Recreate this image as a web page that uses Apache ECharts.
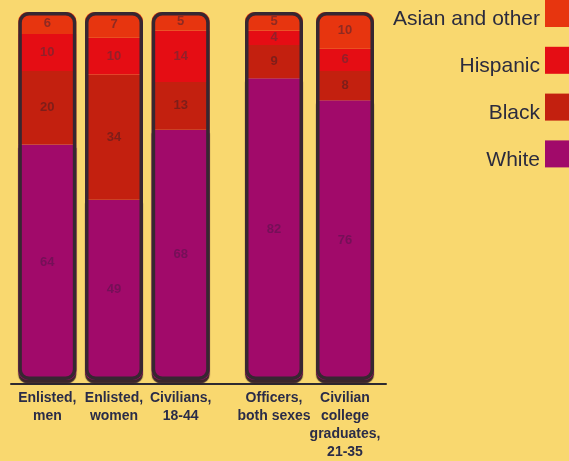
<!DOCTYPE html>
<html>
<head>
<meta charset="utf-8">
<script src="https://cdn.jsdelivr.net/npm/echarts@6/dist/echarts.min.js"></script>
<style>
html,body{margin:0;padding:0;background:#f9d86f;}
#c{width:569px;height:461px;}
</style>
</head>
<body>
<div id="c"></div>
<script>
// Data (percent)
const categoriesA = ['Enlisted,\nmen', 'Enlisted,\nwomen', 'Civilians,\n18-44'];
const categoriesB = ['Officers,\nboth sexes', 'Civilian\ncollege\ngraduates,\n21-35'];
const white    = [64, 49, 68, 82, 76];
const black    = [20, 34, 13, 9, 8];
const hispanic = [10, 10, 14, 4, 6];
const asian    = [6, 7, 5, 5, 10];
const totals   = [100, 100, 100, 100, 100];
const legendNames = ['Asian and other', 'Hispanic', 'Black', 'White'];

const colors = {
  'White': '#a10a6a',
  'Black': '#c3200f',
  'Hispanic': '#e50d14',
  'Asian and other': '#e7350f'
};
const labelColors = {
  'White': '#751058',
  'Black': '#7e1e1a',
  'Hispanic': '#93202a',
  'Asian and other': '#8f2a22'
};
const font = '"Liberation Sans", Arial, Helvetica, sans-serif';
const BW = 58;
const R = 9;

function seriesFor(gi, from, to) {
  const defs = [
    ['White', white, [0, 0, R, R]],
    ['Black', black, 0],
    ['Hispanic', hispanic, 0],
    ['Asian and other', asian, [R, R, 0, 0]]
  ];
  const out = defs.map(([name, arr, r]) => {
    const st = { color: colors[name], borderRadius: r };
    if (name === 'White') {
      st.shadowColor = 'rgba(50,28,38,0.95)';
      st.shadowOffsetX = 0;
      st.shadowOffsetY = 3.5;
      st.shadowBlur = 1;
    }
    return {
      name: name,
      type: 'bar',
      stack: 's' + gi,
      xAxisIndex: gi,
      yAxisIndex: gi,
      barWidth: BW,
      data: arr.slice(from, to),
      itemStyle: st,
      label: {
        show: true, position: 'inside',
        color: labelColors[name], fontWeight: 'bold', fontSize: 13, fontFamily: font
      },
      emphasis: { disabled: true }
    };
  });
  out.push({
    name: 'outline' + gi,
    type: 'bar',
    xAxisIndex: gi,
    yAxisIndex: gi,
    barWidth: BW,
    barGap: '-100%',
    silent: true,
    z: 5,
    data: totals.slice(from, to),
    itemStyle: {
      color: 'rgba(0,0,0,0)',
      borderColor: '#372731',
      borderWidth: 3.5,
      borderRadius: R
    },
    label: { show: false },
    emphasis: { disabled: true }
  });
  return out;
}

const catAxis = (gi, data) => ({
  type: 'category', gridIndex: gi, data: data,
  axisLine: { show: false }, axisTick: { show: false },
  axisLabel: {
    interval: 0, margin: 9, color: '#2a2c48', fontFamily: font,
    fontSize: 14, fontWeight: 'bold', lineHeight: 18
  }
});
const valAxis = (gi) => ({
  type: 'value', gridIndex: gi, min: 0, max: 100, show: false
});

const chart = echarts.init(document.getElementById('c'), null, { renderer: 'canvas' });
chart.setOption({
  backgroundColor: '#f9d86f',
  animation: false,
  grid: [
    { left: 14, width: 200, top: 12, bottom: 81 },
    { left: 238.5, width: 142, top: 12, bottom: 81 },
    { left: 11, right: 183, top: 12, bottom: 77 }
  ],
  xAxis: [
    catAxis(0, categoriesA),
    catAxis(1, categoriesB),
    { type: 'value', gridIndex: 2, min: 0, max: 1,
      axisLine: { show: true, lineStyle: { color: '#2e2a30', width: 2 } },
      axisTick: { show: false }, axisLabel: { show: false }, splitLine: { show: false } }
  ],
  yAxis: [valAxis(0), valAxis(1), valAxis(2)],
  legend: {
    data: legendNames.map(n => ({ name: n, itemStyle: { color: colors[n] } })),
    orient: 'vertical',
    right: -13,
    top: -5,
    align: 'right',
    itemWidth: 32,
    itemHeight: 27,
    itemGap: 16.8,
    icon: 'rect',
    selectedMode: false,
    formatter: '{t|{name}}',
    textStyle: {
      fontSize: 21, color: '#2b2b3e', fontFamily: font,
      rich: { t: { fontSize: 21, color: '#2b2b3e', fontFamily: font, padding: [12, 0, 0, 0] } }
    }
  },
  series: [...seriesFor(0, 0, 3), ...seriesFor(1, 3, 5)]
});
</script>
</body>
</html>
